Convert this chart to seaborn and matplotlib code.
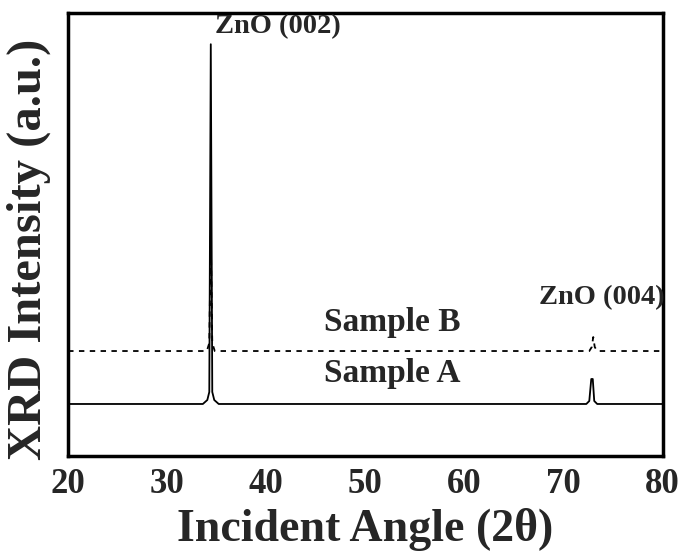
import numpy as np
import pandas as pd
import matplotlib
matplotlib.use("Agg")
import matplotlib.pyplot as plt
import seaborn as sns

# XRD patterns (2theta in degrees, intensity in arbitrary units)
two_theta_a = [20, 33.6, 34.05, 34.25, 34.4, 34.55, 34.75, 35.2, 72.3, 72.6, 72.8, 72.95, 73.1, 73.4, 80]
intensity_a = [0, 0, 4, 12, 360, 12, 4, 0, 0, 3, 25, 25, 3, 0, 0]

offset_b = 53
two_theta_b = [20, 34.0, 34.25, 34.4, 34.55, 34.8, 72.6, 72.85, 73.0, 73.15, 73.4, 80]
intensity_b = [0, 0, 8, 117, 8, 0, 0, 4, 14, 4, 0, 0]

peak_labels = ["ZnO (002)", "ZnO (004)"]
peak_pos = [34.8, 67.5]
peak_height = [371, 100]

sample_labels = ["Sample B", "Sample A"]
sample_pos = [52.7, 52.7]
sample_height = [73, 22]

sns.set_style("white")
plt.rcParams["font.family"] = ["Liberation Serif", "DejaVu Serif"]
plt.rcParams["font.weight"] = "bold"

df_a = pd.DataFrame({"x": two_theta_a, "y": intensity_a})
df_b = pd.DataFrame({"x": two_theta_b, "y": np.array(intensity_b) + offset_b})

fig, ax = plt.subplots(figsize=(6.81, 5.52), dpi=100)
fig.subplots_adjust(left=0.100, right=0.973, top=0.976, bottom=0.174)

sns.lineplot(data=df_a, x="x", y="y", ax=ax, color="black", lw=1.3, sort=False)
sns.lineplot(data=df_b, x="x", y="y", ax=ax, color="black", lw=1.3, sort=False,
             linestyle=(0, (3, 3)))

ax.set_xlim(20, 80)
ax.set_ylim(-52, 391)
ax.set_yticks([])
ax.set_xticks([20, 30, 40, 50, 60, 70, 80])
ax.tick_params(axis="x", direction="in", length=8, width=2, labelsize=25, pad=9)
for lab in ax.get_xticklabels():
    lab.set_fontweight("bold")
for s in ax.spines.values():
    s.set_linewidth(2.5)
    s.set_color("black")

ax.set_xlabel("Incident Angle (2θ)", fontsize=33, fontweight="bold", labelpad=5)
ax.set_ylabel("XRD Intensity (a.u.)", fontsize=35, fontweight="bold")
ax.yaxis.set_label_coords(-0.028, 0.467)

for lab, px, py in zip(peak_labels, peak_pos, peak_height):
    ax.text(px, py, lab, fontsize=20.5, fontweight="bold", va="baseline", ha="left")

for lab, px, py in zip(sample_labels, sample_pos, sample_height):
    ax.text(px, py, lab, fontsize=24, fontweight="bold", ha="center", va="baseline")

fig.savefig("out.png", dpi=100)
